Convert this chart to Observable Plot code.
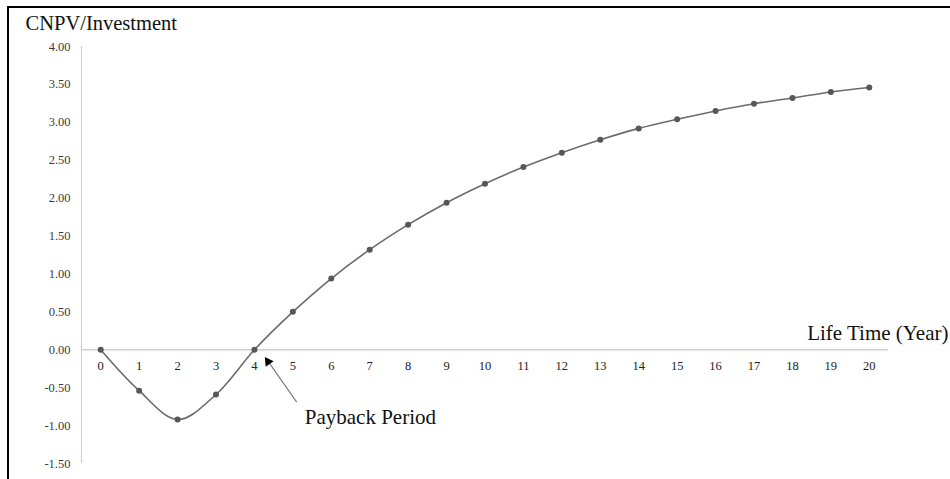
<!DOCTYPE html>
<html>
<head>
<meta charset="utf-8">
<script src="https://cdn.jsdelivr.net/npm/d3@7"></script>
<script src="https://cdn.jsdelivr.net/npm/@observablehq/plot@0.6"></script>
<style>
  html, body { margin: 0; padding: 0; background: #fff; }
  #wrap { position: relative; width: 950px; height: 479px; overflow: hidden; }
  #frame { position: absolute; left: 7px; top: 6px; right: -10px; bottom: -10px;
           border-left: 2px solid #000; border-top: 2px solid #000; pointer-events: none; }
</style>
</head>
<body>
<div id="wrap"><div id="frame"></div></div>
<script>
// ---- data ----
const years = [0, 1, 2, 3, 4, 5, 6, 7, 8, 9, 10, 11, 12, 13, 14, 15, 16, 17, 18, 19, 20];
const cnpvRatio = [0, -0.54, -0.92, -0.59, 0, 0.50, 0.94, 1.32, 1.65, 1.94, 2.19, 2.41, 2.60, 2.77, 2.92, 3.04, 3.15, 3.245, 3.32, 3.40, 3.46];
const yTicks = [-1.5, -1.0, -0.5, 0, 0.5, 1.0, 1.5, 2.0, 2.5, 3.0, 3.5, 4.0];
const yTickLabels = ["-1.50", "-1.00", "-0.50", "0.00", "0.50", "1.00", "1.50", "2.00", "2.50", "3.00", "3.50", "4.00"];
const xTickLabels = years.map(String);
const yTitle = "CNPV/Investment";
const xTitle = "Life Time (Year)";
const annotationText = "Payback Period";
const annotationPos = {x: 5.31, y: -0.975};
const arrowFrom = {x: 5.10, y: -0.69};
const arrowTo = {x: 4.38, y: -0.17};

const data = years.map((yr, i) => ({year: yr, value: cnpvRatio[i]}));

const chart = Plot.plot({
  width: 950,
  height: 479,
  marginLeft: 81,
  marginRight: 62,
  marginTop: 46,
  marginBottom: 16,
  x: {domain: [-0.5, 20.5], axis: null},
  y: {domain: [-1.5, 4], axis: null},
  style: {fontFamily: "'Liberation Serif', 'Times New Roman', serif", background: "transparent", overflow: "visible"},
  marks: [
    Plot.ruleX([-0.5], {stroke: "#cfcfcf", strokeWidth: 1.2}),
    Plot.ruleY([0], {stroke: "#cfcfcf", strokeWidth: 1.5}),
    Plot.text(yTicks, {x: -0.5, y: d => d, text: (d, i) => yTickLabels[i], textAnchor: "end", dx: -11, fontSize: 12.5, fill: "#3a3a3a"}),
    Plot.text(years, {x: d => d, y: 0, text: (d, i) => xTickLabels[i], dy: 16, fontSize: 12.5, fill: "#222"}),
    Plot.line(data, {x: "year", y: "value", curve: "catmull-rom", stroke: "#6b6b6b", strokeWidth: 1.6}),
    Plot.dot(data, {x: "year", y: "value", r: 3, fill: "#575757", stroke: "none"}),
    Plot.link([0], {x1: arrowFrom.x, y1: arrowFrom.y, x2: arrowTo.x, y2: arrowTo.y, stroke: "#777", strokeWidth: 1.1}),
    Plot.dot([0], {x: arrowTo.x, y: arrowTo.y, symbol: "triangle", r: 3.6, fill: "#000", stroke: "none", rotate: -35, dx: -1, dy: -1}),
    Plot.text([annotationText], {x: annotationPos.x, y: annotationPos.y, text: d => d, textAnchor: "start", lineAnchor: "bottom", fontSize: 21, fill: "#111"}),
    Plot.text([yTitle], {frameAnchor: "top-left", text: d => d, dx: -56, dy: -17, textAnchor: "start", lineAnchor: "bottom", fontSize: 20.5, fill: "#111"}),
    Plot.text([xTitle], {x: 20.5, y: 0, text: d => d, dx: 60, dy: -10, textAnchor: "end", lineAnchor: "bottom", fontSize: 21, fill: "#111"})
  ]
});
chart.style.position = "absolute";
chart.style.left = "0px";
chart.style.top = "0px";
document.getElementById("wrap").insertBefore(chart, document.getElementById("frame"));
</script>
</body>
</html>
